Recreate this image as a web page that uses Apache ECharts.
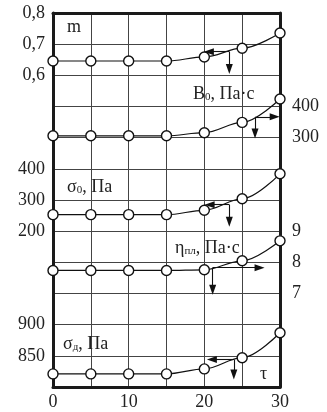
<!DOCTYPE html>
<html><head><meta charset="utf-8">
<script src="https://cdn.jsdelivr.net/npm/echarts@6/dist/echarts.min.js"></script>
<style>html,body{margin:0;padding:0;background:#fff}#c{width:327px;height:412px}</style>
</head><body><div id="c"></div>
<script>
// Data
const tau = [0, 5, 10, 15, 20, 25, 30];
const mVals   = [0.646, 0.646, 0.646, 0.646, 0.659, 0.687, 0.736];
const b0Vals  = [306, 306, 306, 306, 316, 349, 424];
const s0Vals  = [253, 253, 253, 253, 267, 304, 384];
const etaVals = [7.74, 7.74, 7.74, 7.74, 7.76, 8.05, 8.69];
const sdVals  = [821, 821, 821, 821, 829, 847, 887];
const xTickLabels = [0, 10, 20, 30];
const mTicks = [0.6, 0.7, 0.8];
const b0Ticks = [300, 400];
const s0Ticks = [200, 300, 400];
const etaTicks = [7, 8, 9];
const sdTicks = [850, 900];

const FONT = 'Liberation Serif';
const chart = echarts.init(document.getElementById('c'));

function pairs(xs, ys) { return xs.map((x, i) => [x, ys[i]]); }
function fmt(list, comma) {
  return function (v) {
    for (const t of list) {
      if (Math.abs(v - t) < 1e-6) return comma ? String(t).replace('.', ',') : String(t);
    }
    return '';
  };
}
function gridLine() { return {show: true, lineStyle: {color: '#444444', width: 1}}; }
function yAx(min, max, interval, pos, ticks, comma, main) {
  return {
    type: 'value', min: min, max: max, interval: interval, position: pos, offset: 0,
    axisLine: {show: !!main, onZero: false, lineStyle: {color: '#1a1a1a', width: 3}},
    axisTick: {show: false},
    splitLine: main === 'grid' ? gridLine() : {show: false},
    axisLabel: {formatter: fmt(ticks, comma), color: '#222', fontFamily: FONT, fontSize: 18, margin: pos === 'left' ? 8 : 12}
  };
}
function arrows(h, d) {
  return {
    silent: true, symbol: ['none', 'triangle'], symbolSize: [7, 10],
    label: {show: false}, lineStyle: {color: '#111', width: 1.1, type: 'solid'},
    itemStyle: {color: '#111'},
    data: [[{coord: h[0]}, {coord: h[1]}], [{coord: d[0]}, {coord: d[1]}]]
  };
}
function ser(name, yi, vals, ml) {
  return {
    name: name, type: 'line', yAxisIndex: yi, data: pairs(tau, vals),
    smooth: 0.35, smoothMonotone: 'x',
    symbol: 'circle', symbolSize: 10,
    itemStyle: {color: '#fff', borderColor: '#111', borderWidth: 1.4},
    lineStyle: {color: '#111', width: 1.2},
    markLine: ml
  };
}
const sub = {fontFamily: FONT, fontSize: 11, color: '#222', verticalAlign: 'bottom', lineHeight: 20};
const main = {fontFamily: FONT, fontSize: 18, color: '#222', lineHeight: 20, verticalAlign: 'bottom'};
function txt(x, y, text) {
  return {type: 'text', x: x, y: y, z: 10, style: {text: text, fontFamily: FONT, fontSize: 18, fill: '#222', verticalAlign: 'middle', rich: {s: sub, n: main}}};
}

chart.setOption({
  animation: false,
  grid: {left: 53, right: 47, top: 13, bottom: 25},
  xAxis: [{
    type: 'value', min: 0, max: 30, interval: 5, position: 'bottom',
    axisLine: {show: true, onZero: false, lineStyle: {color: '#1a1a1a', width: 3}},
    axisTick: {show: false},
    splitLine: gridLine(),
    axisLabel: {formatter: fmt(xTickLabels, false), color: '#222', fontFamily: FONT, fontSize: 18, margin: 6}
  }, {
    type: 'value', min: 0, max: 30, interval: 5, position: 'top',
    axisLine: {show: true, onZero: false, lineStyle: {color: '#1a1a1a', width: 3}},
    axisTick: {show: false}, splitLine: {show: false}, axisLabel: {show: false}
  }],
  yAxis: [
    yAx(-0.4, 0.8, 0.1, 'left', mTicks, true, 'grid'),
    yAx(-500, 700, 100, 'right', b0Ticks, false, 'line'),
    yAx(-300, 900, 100, 'left', s0Ticks, false, null),
    yAx(4, 16, 1, 'right', etaTicks, false, null),
    yAx(800, 1400, 50, 'left', sdTicks, false, null)
  ],
  series: [
    ser('m', 0, mVals, arrows([[23.3, 0.676], [20.6, 0.676]], [[23.3, 0.676], [23.3, 0.62]])),
    ser('B0', 1, b0Vals, arrows([[26.7, 367], [29.3, 367]], [[26.7, 367], [26.7, 313]])),
    ser('s0', 2, s0Vals, arrows([[23.3, 285], [20.7, 285]], [[23.3, 285], [23.3, 230]])),
    ser('eta', 3, etaVals, arrows([[21.1, 7.83], [27.3, 7.83]], [[21.1, 7.83], [21.1, 7.12]])),
    ser('sd', 4, sdVals, arrows([[23.9, 844], [21.0, 844]], [[23.9, 844], [23.9, 820]]))
  ],
  graphic: [
    txt(67, 27, 'm'),
    txt(193, 93, '{n|B}{s|0}{n|, Па·с}'),
    txt(67, 186, '{n|σ}{s|0}{n|, Па}'),
    txt(175, 247, '{n|η}{s|пл}{n|, Па·с}'),
    txt(63, 343, '{n|σ}{s|д}{n|, Па}'),
    txt(260, 374, 'τ')
  ]
});
</script></body></html>
